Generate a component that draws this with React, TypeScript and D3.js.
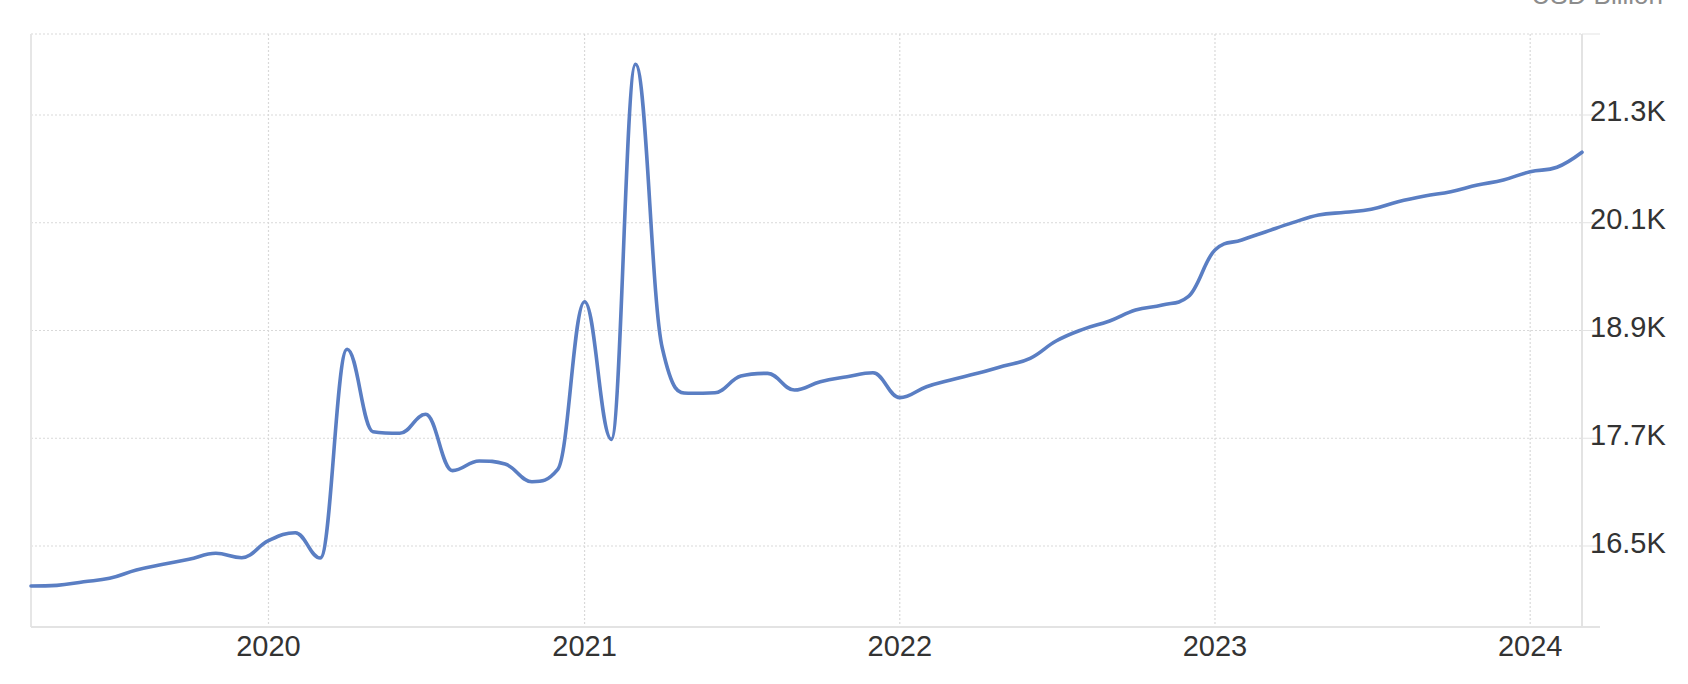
import React from "react";
import * as d3 from "d3";

const months: string[] = [
  "2019-04", "2019-05", "2019-06", "2019-07", "2019-08", "2019-09", "2019-10", "2019-11", "2019-12",
  "2020-01", "2020-02", "2020-03", "2020-04", "2020-05", "2020-06", "2020-07", "2020-08", "2020-09", "2020-10", "2020-11", "2020-12",
  "2021-01", "2021-02", "2021-03", "2021-04", "2021-05", "2021-06", "2021-07", "2021-08", "2021-09", "2021-10", "2021-11", "2021-12",
  "2022-01", "2022-02", "2022-03", "2022-04", "2022-05", "2022-06", "2022-07", "2022-08", "2022-09", "2022-10", "2022-11", "2022-12",
  "2023-01", "2023-02", "2023-03", "2023-04", "2023-05", "2023-06", "2023-07", "2023-08", "2023-09", "2023-10", "2023-11", "2023-12",
  "2024-01", "2024-02", "2024-03",
];

const values: number[] = [
  16055, 16062, 16102, 16140, 16233, 16296, 16352, 16419, 16370,
  16559, 16648, 16366, 18691, 17773, 17755, 17967, 17339, 17447, 17413, 17216, 17354,
  19221, 17688, 21865, 18705, 18201, 18207, 18393, 18423, 18237, 18330, 18385, 18430,
  18152, 18274, 18349, 18423, 18505, 18590, 18783, 18913, 19006, 19128, 19184, 19277,
  19797, 19908, 20000, 20101, 20186, 20216, 20250, 20334, 20398, 20446, 20520, 20576,
  20669, 20718, 20885,
];

const yTickValues: number[] = [16500, 17700, 18900, 20100, 21300];
const yTickLabels: string[] = ["16.5K", "17.7K", "18.9K", "20.1K", "21.3K"];
const xTickYears: string[] = ["2020", "2021", "2022", "2023", "2024"];
const unitLabel = "USD Billion";
const yDomain: [number, number] = [15598, 22202];

const W = 1688;
const H = 684;
const left = 31;
const right = 1582;
const top = 34;
const bottom = 627;
const FONT = "'Liberation Sans', Arial, Helvetica, sans-serif";

function splinePath(pts: [number, number][]): string {
  const p = d3.path();
  const smoothing = 1.5;
  const denom = smoothing + 1;
  const rc: ({ x: number; y: number } | null)[] = pts.map(() => null);
  const lc: ({ x: number; y: number } | null)[] = pts.map(() => null);
  for (let i = 1; i < pts.length - 1; i++) {
    const [px, py] = pts[i];
    const [lx, ly] = pts[i - 1];
    const [nx, ny] = pts[i + 1];
    let lcx = (smoothing * px + lx) / denom;
    let lcy = (smoothing * py + ly) / denom;
    let rcx = (smoothing * px + nx) / denom;
    let rcy = (smoothing * py + ny) / denom;
    let corr = 0;
    if (rcx !== lcx) {
      corr = ((rcy - lcy) * (rcx - px)) / (rcx - lcx) + py - rcy;
    }
    lcy += corr;
    rcy += corr;
    if (lcy > ly && lcy > py) {
      lcy = Math.max(ly, py);
      rcy = 2 * py - lcy;
    } else if (lcy < ly && lcy < py) {
      lcy = Math.min(ly, py);
      rcy = 2 * py - lcy;
    }
    if (rcy > ny && rcy > py) {
      rcy = Math.max(ny, py);
      lcy = 2 * py - rcy;
    } else if (rcy < ny && rcy < py) {
      rcy = Math.min(ny, py);
      lcy = 2 * py - rcy;
    }
    lc[i] = { x: lcx, y: lcy };
    rc[i] = { x: rcx, y: rcy };
  }
  pts.forEach(([x, y], i) => {
    if (i === 0) {
      p.moveTo(x, y);
    } else {
      const prev = pts[i - 1];
      const c1 = rc[i - 1] || { x: prev[0], y: prev[1] };
      const c2 = lc[i] || { x, y };
      p.bezierCurveTo(c1.x, c1.y, c2.x, c2.y, x, y);
    }
  });
  return p.toString();
}

export default function App() {
  const parse = d3.timeParse("%Y-%m");
  const dates = months.map((m) => parse(m) as Date);
  const x = d3
    .scaleTime()
    .domain([dates[0], dates[dates.length - 1]])
    .range([left, right]);
  const y = d3.scaleLinear().domain(yDomain).range([bottom, top]);

  const pts: [number, number][] = dates.map((d, i) => [x(d), y(values[i])]);
  const path = splinePath(pts);

  const yearX = xTickYears.map((yr) => x(parse(yr + "-01") as Date));
  const gridYs = [top, ...yTickValues.map((v) => y(v))];

  return (
    <svg
      width={W}
      height={H}
      style={{ position: "absolute", left: 0, top: 0, background: "#fff" }}
      fontFamily={FONT}
    >
      <rect x={0} y={0} width={W} height={H} fill="#ffffff" />
      <text x={1663} y={4} textAnchor="end" fontSize={26} fill="#8c8c8c">
        {unitLabel}
      </text>
      {gridYs.map((gy, i) => (
        <line
          key={"hg" + i}
          x1={left}
          x2={right}
          y1={gy}
          y2={gy}
          stroke="#d9d9d9"
          strokeWidth={1.2}
          strokeDasharray="2,2"
        />
      ))}
      {yearX.map((gx, i) => (
        <line
          key={"vg" + i}
          x1={gx}
          x2={gx}
          y1={top}
          y2={bottom}
          stroke="#d9d9d9"
          strokeWidth={1.2}
          strokeDasharray="2,2"
        />
      ))}
      <line x1={left} x2={left} y1={top} y2={bottom} stroke="#e6e6e6" strokeWidth={2} />
      <line x1={left} x2={1600} y1={bottom} y2={bottom} stroke="#e3e3e3" strokeWidth={2} />
      <line x1={right} x2={right} y1={top} y2={bottom} stroke="#e3e3e3" strokeWidth={2} />
      {[top, ...yTickValues.map((v) => y(v))].map((ty, i) => (
        <line key={"tk" + i} x1={right} x2={1600} y1={ty} y2={ty} stroke="#e3e3e3" strokeWidth={1} />
      ))}
      {yTickValues.map((v, i) => (
        <text key={"yl" + i} x={1590} y={y(v) + 6.5} fontSize={29} fill="#333333">
          {yTickLabels[i]}
        </text>
      ))}
      {xTickYears.map((yr, i) => (
        <text key={"xl" + i} x={yearX[i]} y={656} textAnchor="middle" fontSize={29} fill="#333333">
          {yr}
        </text>
      ))}
      <path d={path} fill="none" stroke="#5a7ec3" strokeWidth={3.6} strokeLinejoin="round" strokeLinecap="round" />
    </svg>
  );
}
